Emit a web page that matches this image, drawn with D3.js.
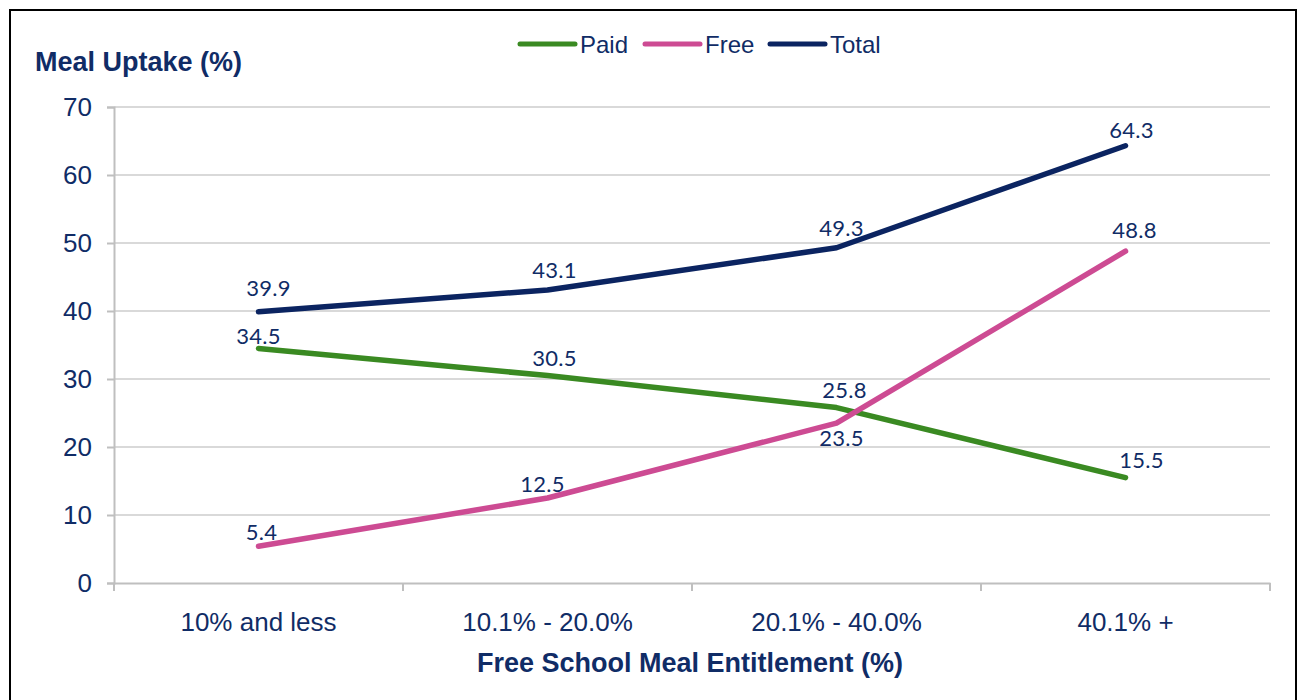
<!DOCTYPE html>
<html>
<head>
<meta charset="utf-8">
<script src="https://cdn.jsdelivr.net/npm/d3@7"></script>
<style>
  html, body { margin: 0; padding: 0; background: #fff; }
  svg { display: block; }
</style>
</head>
<body>
<svg id="chart" width="1303" height="700"></svg>
<script>
// ---- data ----
const categories = ["10% and less", "10.1% - 20.0%", "20.1% - 40.0%", "40.1% +"];
const seriesNames = ["Paid", "Free", "Total"];
const paidValues = [34.5, 30.5, 25.8, 15.5];
const freeValues = [5.4, 12.5, 23.5, 48.8];
const totalValues = [39.9, 43.1, 49.3, 64.3];
const yTicks = [0, 10, 20, 30, 40, 50, 60, 70];
const yTitle = "Meal Uptake (%)";
const xTitle = "Free School Meal Entitlement (%)";

// ---- styling / layout (kept apart from data) ----
const colors = { Paid: "#3a8a22", Free: "#cd4b93", Total: "#0b2461" };
const textColor = "#102c66";
// data label offsets relative to point (dx, baseline dy)
const labelOffsets = {
  Paid:  [[0, -4], [7, -10], [8, -10], [16, -10]],
  Free:  [[3, -6], [-5, -6], [5, 23], [9, -13]],
  Total: [[10, -16], [7, -12], [5, -12], [6, -8]]
};

const svg = d3.select("#chart");
const plotLeft = 114, plotRight = 1270, plotTop = 107, plotBottom = 583;

// outer border
svg.append("rect").attr("x", 10).attr("y", 10).attr("width", 1286).attr("height", 700)
  .attr("fill", "#fff").attr("stroke", "#000").attr("stroke-width", 2);

const x = d3.scaleBand().domain(categories).range([plotLeft, plotRight]);
const y = d3.scaleLinear().domain([0, 70]).range([plotBottom, plotTop]);
const cx = c => x(c) + x.bandwidth() / 2;

// gridlines
svg.append("g").selectAll("line").data(yTicks.filter(t => t > 0)).join("line")
  .attr("x1", plotLeft).attr("x2", plotRight)
  .attr("y1", d => y(d)).attr("y2", d => y(d))
  .attr("stroke", "#d9d9d9").attr("stroke-width", 2);

// y axis
const yAxis = svg.append("g").attr("transform", `translate(${plotLeft},0)`)
  .call(d3.axisLeft(y).tickValues(yTicks).tickSize(7).tickPadding(15).tickFormat(d3.format("d")));
yAxis.select(".domain").attr("stroke", "#bfbfbf").attr("stroke-width", 2);
yAxis.selectAll(".tick line").attr("stroke", "#bfbfbf").attr("stroke-width", 2);
yAxis.selectAll(".tick text").attr("fill", textColor)
  .style("font-family", "'Liberation Sans', Arial, sans-serif").style("font-size", "26px");

// x axis
const xAxis = svg.append("g").attr("transform", `translate(0,${plotBottom})`)
  .call(d3.axisBottom(x).tickSize(0).tickPadding(30));
xAxis.select(".domain").attr("stroke", "#bfbfbf").attr("stroke-width", 2);
xAxis.selectAll(".tick text").attr("fill", textColor)
  .style("font-family", "'Liberation Sans', Arial, sans-serif").style("font-size", "26px");
// category boundary ticks
const bounds = categories.map(c => x(c)).concat([plotRight]);
svg.append("g").selectAll("line").data(bounds).join("line")
  .attr("x1", d => d).attr("x2", d => d).attr("y1", plotBottom).attr("y2", plotBottom + 8)
  .attr("stroke", "#bfbfbf").attr("stroke-width", 2);

// titles
svg.append("text").attr("x", 35).attr("y", 71).text(yTitle)
  .attr("fill", textColor).style("font-family", "'Liberation Sans', Arial, sans-serif")
  .style("font-size", "27px").style("font-weight", "bold");
svg.append("text").attr("x", (plotLeft + plotRight) / 2 - 2).attr("y", 672).attr("text-anchor", "middle").text(xTitle)
  .attr("fill", textColor).style("font-family", "'Liberation Sans', Arial, sans-serif")
  .style("font-size", "27px").style("font-weight", "bold");

// series
const series = [
  { name: "Paid", values: paidValues },
  { name: "Free", values: freeValues },
  { name: "Total", values: totalValues }
];
const line = d3.line().x((d, i) => cx(categories[i])).y(d => y(d));
series.forEach(s => {
  svg.append("path").datum(s.values).attr("d", line)
    .attr("fill", "none").attr("stroke", colors[s.name]).attr("stroke-width", 5.5)
    .attr("stroke-linecap", "round").attr("stroke-linejoin", "round");
});
series.forEach(s => {
  svg.append("g").selectAll("text").data(s.values).join("text")
    .attr("x", (d, i) => cx(categories[i]) + labelOffsets[s.name][i][0])
    .attr("y", (d, i) => y(d) + labelOffsets[s.name][i][1])
    .attr("text-anchor", "middle")
    .attr("fill", textColor)
    .style("font-family", "Lato, 'Open Sans', sans-serif").style("font-size", "22px")
    .style("letter-spacing", "0.3px")
    .text(d => d3.format(".1f")(d));
});

// legend
const legendX = [520, 645, 770];
const legend = svg.append("g");
seriesNames.forEach((n, i) => {
  legend.append("line").attr("x1", legendX[i]).attr("x2", legendX[i] + 55)
    .attr("y1", 44).attr("y2", 44)
    .attr("stroke", colors[n]).attr("stroke-width", 5).attr("stroke-linecap", "round");
  legend.append("text").attr("x", legendX[i] + 60).attr("y", 53).text(n)
    .attr("fill", textColor).style("font-family", "'Liberation Sans', Arial, sans-serif")
    .style("font-size", "24px");
});
</script>
</body>
</html>
